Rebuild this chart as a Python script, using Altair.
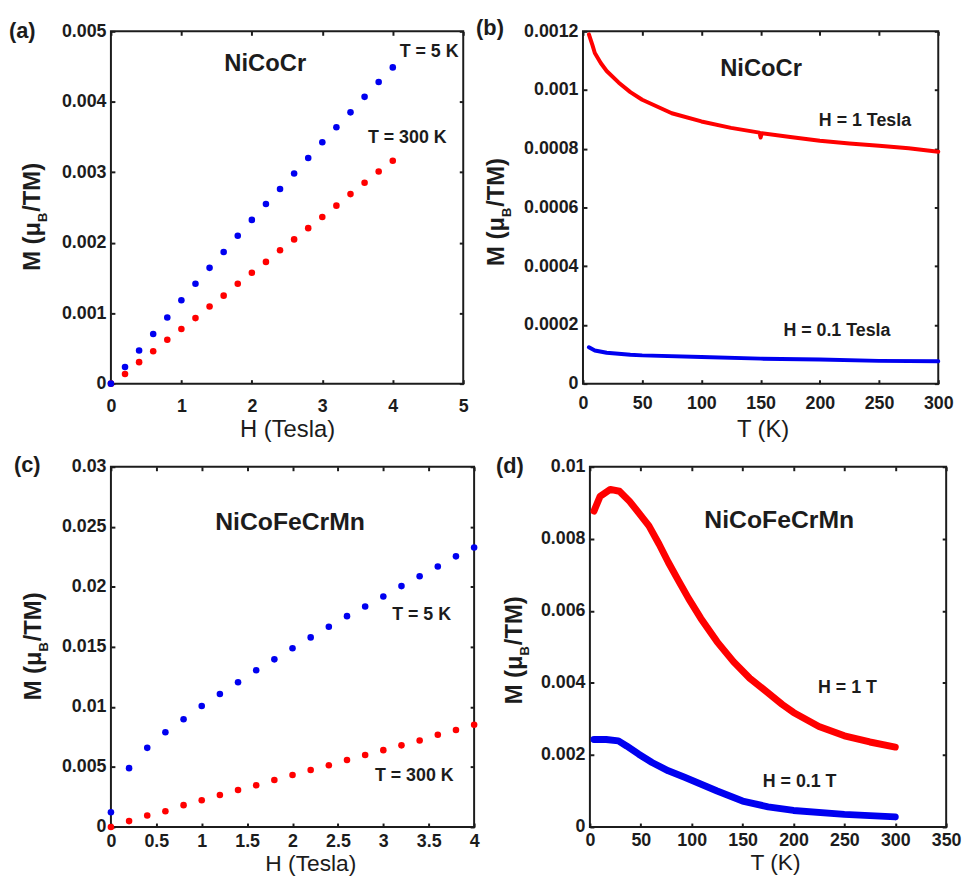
import altair as alt
import pandas as pd

FONT = "Liberation Sans"
DARK = "#1c1c1c"
RED = "#ff0000"
BLUE = "#0000f0"

# ---------------- (a) NiCoCr, M vs H ----------------
a_H = [0.0, 0.2, 0.4, 0.6, 0.8, 1.0, 1.2, 1.4, 1.6, 1.8, 2.0,
       2.2, 2.4, 2.6, 2.8, 3.0, 3.2, 3.4, 3.6, 3.8, 4.0]
a_M_5K = [0.0, 0.000235, 0.00047, 0.000704, 0.000939, 0.001183, 0.001418,
          0.001643, 0.001869, 0.002099, 0.002324, 0.002549, 0.002761,
          0.002981, 0.003202, 0.003427, 0.003638, 0.00385, 0.00407,
          0.004282, 0.004488]
a_M_300K = [0.0, 0.000136, 0.000305, 0.00046, 0.000624, 0.000775, 0.00093,
            0.001094, 0.001249, 0.001418, 0.001573, 0.001728, 0.001892,
            0.002047, 0.002207, 0.002366, 0.002526, 0.00269, 0.00285,
            0.00301, 0.003164]
a_xticks = [0, 1, 2, 3, 4, 5]
a_yticks = [0, 0.001, 0.002, 0.003, 0.004, 0.005]

# ---------------- (b) NiCoCr, M vs T ----------------
b_T_1T = [5, 8, 10, 15, 20, 30, 40, 50, 75, 100, 125, 149, 150, 151,
          175, 200, 225, 250, 275, 300]
b_M_1T = [0.00119, 0.001153, 0.001126, 0.001092, 0.001065, 0.001026,
          0.000993, 0.000967, 0.000921, 0.000893, 0.000871, 0.000855,
          0.000838, 0.000853, 0.00084, 0.000827, 0.000818, 0.00081,
          0.000802, 0.00079]
b_T_01T = [5, 10, 20, 40, 50, 100, 150, 200, 250, 300]
b_M_01T = [0.000124, 0.000113, 0.000105, 0.0000985, 0.0000963, 0.0000908,
           0.0000852, 0.0000819, 0.0000775, 0.0000764]
b_xticks = [0, 50, 100, 150, 200, 250, 300]
b_yticks = [0, 0.0002, 0.0004, 0.0006, 0.0008, 0.001, 0.0012]

# ---------------- (c) NiCoFeCrMn, M vs H ----------------
c_H = a_H
c_M_5K = [0.001225, 0.0049, 0.00659, 0.00789, 0.00898, 0.01007, 0.01108,
          0.01206, 0.01306, 0.01396, 0.01489, 0.01579, 0.01668, 0.01756,
          0.01837, 0.01919, 0.02006, 0.02088, 0.02169, 0.02254, 0.02327]
c_M_300K = [0.0, 0.00049, 0.00095, 0.00131, 0.00182, 0.00223, 0.00267,
            0.00308, 0.00348, 0.00392, 0.00433, 0.00474, 0.00514, 0.00558,
            0.00599, 0.0064, 0.0068, 0.00721, 0.00768, 0.00808, 0.00852]
c_xticks = [0, 0.5, 1, 1.5, 2, 2.5, 3, 3.5, 4]
c_yticks = [0, 0.005, 0.01, 0.015, 0.02, 0.025, 0.03]

# ---------------- (d) NiCoFeCrMn, M vs T ----------------
d_T_1T = [4, 10, 20, 29, 39, 48, 58, 68, 77, 87, 97, 109, 125, 141, 157,
          173, 189, 200, 225, 250, 275, 300]
d_M_1T = [0.00877, 0.00918, 0.00937, 0.00932, 0.00904, 0.00872, 0.00836,
          0.00785, 0.00735, 0.00684, 0.00634, 0.00579, 0.00514, 0.00459,
          0.00413, 0.00377, 0.0034, 0.00318, 0.00279, 0.00253, 0.00236,
          0.00222]
d_T_01T = [4, 16, 28, 36, 48, 61, 77, 93, 100, 125, 150, 175, 200, 250, 300]
d_M_01T = [0.00243, 0.00243, 0.00239, 0.00225, 0.00202, 0.00179, 0.00156,
           0.00138, 0.0013, 0.001, 0.00072, 0.00056, 0.00046, 0.00035,
           0.00028]
d_xticks = [0, 50, 100, 150, 200, 250, 300, 350]
d_yticks = [0, 0.002, 0.004, 0.006, 0.008, 0.01]

ONE = pd.DataFrame({"k": [0]})


def scale(lo, hi):
    return alt.Scale(domain=[lo, hi], nice=False, zero=False)


def axes(W, H, xvals, xfmt, yvals, yfmt, xtitle, lgap, tgap, tshift, tfs):
    tick = dict(grid=False, domain=False, tickColor=DARK, tickWidth=2,
                tickSize=4)
    lab = dict(labelFont=FONT, labelColor=DARK, labelFontWeight="bold",
               labelOverlap=False, labelFlush=False)
    x1 = alt.Axis(orient="top", offset=-H, values=xvals, format=xfmt,
                  labelFontSize=18, labelBaseline="top",
                  labelPadding=-(4 + lgap), title=xtitle, titleFont=FONT,
                  titleFontSize=tfs, titleFontWeight="normal",
                  titleColor=DARK, titleBaseline="top", titleY=tgap,
                  titleX=W / 2 + tshift, titleAlign="center", **tick, **lab)
    y1 = alt.Axis(orient="right", offset=-W, values=yvals, format=yfmt,
                  labelFontSize=18, labelAlign="right",
                  labelBaseline="middle", labelPadding=-9, title=None,
                  **tick, **lab)
    x2 = alt.Axis(orient="bottom", offset=-H, values=xvals, labels=False,
                  title=None, **tick)
    y2 = alt.Axis(orient="left", offset=-W, values=yvals, labels=False,
                  title=None, **tick)
    return x1, y1, x2, y2


def ytitle(xc, yc):
    fs, sub = 24, 13
    w1 = 2.055 * fs
    wb = 0.722 * sub
    w3 = 2.055 * fs
    start = -(w1 + wb + w3) / 2
    base = dict(angle=270, font=FONT, fontWeight="bold", color=DARK,
                align="left", baseline="alphabetic")
    enc = dict(x=alt.value(xc), y=alt.value(yc))
    p1 = alt.Chart(ONE).mark_text(text="M (μ", fontSize=fs, dx=start,
                                  dy=fs * 0.358, **base).encode(**enc)
    p2 = alt.Chart(ONE).mark_text(text="B", fontSize=sub, dx=start + w1,
                                  dy=fs * 0.358 + 7, **base).encode(**enc)
    p3 = alt.Chart(ONE).mark_text(text="/TM)", fontSize=fs,
                                  dx=start + w1 + wb + 1,
                                  dy=fs * 0.358, **base).encode(**enc)
    return [p1, p2, p3]


def plabel(txt, x, y):
    return alt.Chart(ONE).mark_text(
        text=txt, font=FONT, fontSize=22, fontWeight="bold", color=DARK,
        align="left", baseline="middle").encode(x=alt.value(x),
                                                 y=alt.value(y))


def notes(rows, xs, ys, size):
    df = pd.DataFrame(rows, columns=["x", "y", "t"])
    return alt.Chart(df).mark_text(
        font=FONT, fontSize=size, fontWeight="bold", color=DARK,
        align="center", baseline="middle").encode(
        x=alt.X("x:Q", scale=xs, axis=None),
        y=alt.Y("y:Q", scale=ys, axis=None), text="t:N")


def panel(W, H, xs, ys, s1, s2, kind, width1, ax, title_layers, extra):
    x1, y1, x2, y2 = ax

    def mk(df, color, xa, ya):
        if kind == "point":
            m = alt.Chart(df).mark_circle(size=44, opacity=1, color=color)
        else:
            m = alt.Chart(df).mark_line(strokeWidth=width1, color=color,
                                        strokeCap="round",
                                        strokeJoin="round")
        return m.encode(x=alt.X("x:Q", scale=xs, axis=xa),
                        y=alt.Y("y:Q", scale=ys, axis=ya))

    l1 = mk(s1[0], s1[1], x1, y1)
    l2 = mk(s2[0], s2[1], x2, y2)
    return alt.layer(l1, l2, *extra, *title_layers).properties(
        width=W, height=H).resolve_axis(x="independent", y="independent")


def frame(xv, yv):
    return pd.DataFrame({"x": xv, "y": yv})


# ---- panel a ----
WA, HA = 356, 356
xa_s, ya_s = scale(0, 5), scale(0, 0.005)
pa = panel(
    WA, HA, xa_s, ya_s,
    (frame(a_H, a_M_300K), RED), (frame(a_H, a_M_5K), BLUE), "point", 0,
    axes(WA, HA, a_xticks, "d", a_yticks, ".3~f", "H (Tesla)", 14.5, 34, 0,
         24),
    ytitle(-80, 188) + [plabel("(a)", -103, 0)],
    [notes([[2.19, 0.004535, "NiCoCr"]], xa_s, ya_s, 24),
     notes([[4.516, 0.0047, "T = 5 K"], [4.206, 0.003479, "T = 300 K"]],
           xa_s, ya_s, 18)])

# ---- panel b ----
WB, HB = 359, 356
xb_s, yb_s = scale(0, 300), scale(0, 0.0012)
pb = panel(
    WB, HB, xb_s, yb_s,
    (frame(b_T_1T, b_M_1T), RED), (frame(b_T_01T, b_M_01T), BLUE), "line", 4,
    axes(WB, HB, b_xticks, "d", b_yticks, ".4~f", "T (K)", 11.5, 34, 2, 24),
    ytitle(-88, 183) + [plabel("(b)", -108, -3)],
    [notes([[150.4, 0.00107, "NiCoCr"]], xb_s, yb_s, 24),
     notes([[238.1, 0.000896, "H = 1 Tesla"],
            [214.4, 0.0001795, "H = 0.1 Tesla"]], xb_s, yb_s, 18)])

# ---- panel c ----
WC, HC = 367, 364
xc_s, yc_s = scale(0, 4), scale(0, 0.03)
pc = panel(
    WC, HC, xc_s, yc_s,
    (frame(c_H, c_M_300K), RED), (frame(c_H, c_M_5K), BLUE), "point", 0,
    axes(WC, HC, c_xticks, ".1~f", c_yticks, ".3~f", "H (Tesla)", 5.5, 26,
         18, 23),
    ytitle(-79, 182) + [plabel("(c)", -98, -2)],
    [notes([[1.973, 0.02543, "NiCoFeCrMn"]], xc_s, yc_s, 25),
     notes([[3.422, 0.01769, "T = 5 K"], [3.341, 0.00424, "T = 300 K"]],
           xc_s, yc_s, 18)])

# ---- panel d ----
WD, HD = 360, 364
xd_s, yd_s = scale(0, 350), scale(0, 0.01)
pd_ = panel(
    WD, HD, xd_s, yd_s,
    (frame(d_T_1T, d_M_1T), RED), (frame(d_T_01T, d_M_01T), BLUE), "line", 7,
    axes(WD, HD, d_xticks, "d", d_yticks, ".3~f", "T (K)", 5, 25, 7, 23),
    ytitle(-77, 186) + [plabel("(d)", -95, -1)],
    [notes([[186.0, 0.008516, "NiCoFeCrMn"]], xd_s, yd_s, 25),
     notes([[253.0, 0.00386, "H = 1 T"], [206.0, 0.001236, "H = 0.1 T"]],
           xd_s, yd_s, 18)])

row1 = alt.hconcat(pa, pb, spacing=121, bounds="flush")
row2 = alt.hconcat(pc, pd_, spacing=117, bounds="flush")

chart = alt.vconcat(row1, row2, spacing=11).properties(
    padding={"left": 0, "top": 4, "right": 0, "bottom": 0},
    background="white",
).configure_view(stroke=DARK, strokeWidth=2, fill="white")

chart.save("out.html", embed_options={"renderer": "svg", "actions": False})
